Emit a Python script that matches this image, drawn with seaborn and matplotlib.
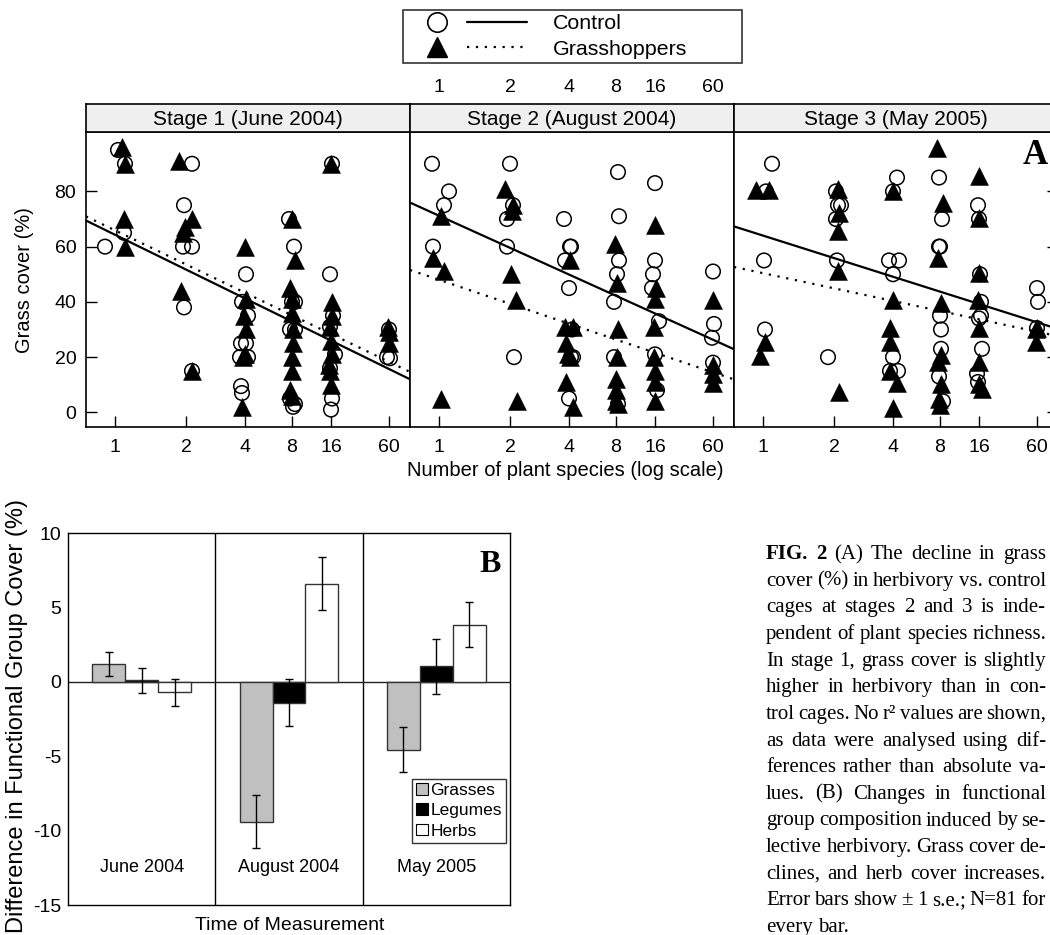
import numpy as np
import pandas as pd
import matplotlib.pyplot as plt
import seaborn as sns
from matplotlib.lines import Line2D
from matplotlib.patches import Patch
from matplotlib.legend_handler import HandlerTuple

# ===============================
# Panel A data: (species, jitter, cover)
# ===============================
stage_titles = ["Stage 1 (June 2004)", "Stage 2 (August 2004)", "Stage 3 (May 2005)"]
species_ticks = [1, 2, 4, 8, 16, 60]

s1_control = [(1, -10, 60), (1, 3, 95), (1, 10, 90), (1, 9, 65),
              (2, 6, 90), (2, -2, 75), (2, -3, 60), (2, 6, 60), (2, -2, 38), (2, 6, 15),
              (4, 1, 50), (4, -3, 40), (4, 3, 35), (4, -4, 25), (4, 1, 25), (4, -5, 20), (4, 3, 20),
              (4, -4, 9.5), (4, -3, 7),
              (8, -3, 70), (8, 2, 60), (8, 0, 40), (8, 3, 40), (8, -2, 30), (8, 3, 30), (8, -2, 5),
              (8, 3, 3), (8, 1, 2),
              (16, 1, 90), (16, -1, 50), (16, 2, 35), (16, -1, 31), (16, 4, 21), (16, -1, 16),
              (16, 1, 5), (16, 0, 1),
              (60, -2, 20), (60, 1, 19.6), (60, 0, 30)]
s1_grasshoppers = [(1, 7, 96), (1, 10, 90), (1, 9, 70), (1, 10, 60),
                   (2, -7, 91), (2, 6, 70), (2, -1, 67), (2, -3, 65), (2, -5, 44), (2, 6, 15),
                   (4, 0, 60), (4, 1, 41), (4, -1, 35), (4, 1, 30), (4, 0, 21), (4, -2, 20), (4, -3, 2),
                   (8, 0, 70), (8, 3, 55), (8, -2, 45), (8, 0, 41), (8, 0, 36), (8, 1, 30), (8, 1, 25),
                   (8, 0, 20), (8, 0, 15), (8, -2, 8), (8, 0, 6),
                   (16, 0, 90), (16, 1, 40), (16, 1, 35), (16, -1, 31), (16, 0, 26), (16, 1, 21),
                   (16, -2, 17), (16, -1, 15), (16, 0, 10),
                   (60, -1, 31), (60, 0, 29), (60, 0, 25)]

s2_control = [(1, -7, 90), (1, 10, 80), (1, 5, 75), (1, -6, 60),
              (2, 0, 90), (2, 3, 75), (2, -3, 70), (2, -3, 60), (2, 4, 20),
              (4, -5, 70), (4, 1, 60), (4, 2, 60), (4, -4, 55), (4, 0, 45), (4, 3, 30), (4, 2, 20),
              (4, 4, 20), (4, 0, 5),
              (8, 2, 87), (8, 3, 71), (8, 3, 55), (8, 1, 50), (8, -2, 40), (8, -2, 20), (8, 2, 3),
              (16, 0, 83), (16, 0, 55), (16, -2, 50), (16, -3, 45), (16, 4, 33), (16, 0, 21), (16, 2, 8),
              (60, 0, 51), (60, 1, 32), (60, -1, 27), (60, 0, 18)]
s2_grasshoppers = [(1, 2, 71), (1, -6, 56), (1, 5, 51), (1, 2, 5),
                   (2, -5, 81), (2, 3, 75), (2, 2, 73), (2, 1, 50), (2, 6, 40.5), (2, 7, 4),
                   (4, 1, 55), (4, -4, 31), (4, 4, 31), (4, -3, 25), (4, -1, 21), (4, 1, 20), (4, -3, 11),
                   (4, 4, 2),
                   (8, -1, 61), (8, 1, 47), (8, 2, 30), (8, 1, 20), (8, 0, 12), (8, 0, 8), (8, 0, 4), (8, 2, 3),
                   (16, 0, 68), (16, 1, 45), (16, 0, 41), (16, -1, 31), (16, -1, 20), (16, 0, 15),
                   (16, 0, 11), (16, 0, 4),
                   (60, 0, 40.5), (60, 0, 17), (60, 0, 14), (60, 0, 10.5)]

s3_control = [(1, 9, 90), (1, 3, 80), (1, 1, 55), (1, 2, 30),
              (2, 2, 80), (2, 4, 75), (2, 7, 75), (2, 2, 70), (2, 3, 55), (2, -6, 20),
              (4, 4, 85), (4, 0, 80), (4, -4, 55), (4, 6, 55), (4, 0, 50), (4, 0, 20), (4, -3, 15),
              (4, 5, 15),
              (8, -1, 85), (8, 2, 70), (8, -1, 60), (8, 0, 60), (8, 0, 35), (8, 1, 30), (8, 1, 23),
              (8, -1, 13), (8, 3, 4),
              (16, -1, 75), (16, 0, 70), (16, 1, 50), (16, 2, 40), (16, 2, 35), (16, 0, 34), (16, 3, 23),
              (16, -2, 14), (16, -1, 11),
              (60, 0, 45), (60, 1, 40), (60, 0, 30.5)]
s3_grasshoppers = [(1, -7, 80.5), (1, 6, 80.5), (1, 2, 25.5), (1, -3, 20.5),
                   (2, 4, 81), (2, 5, 72), (2, 4, 65.5), (2, 4, 51), (2, 5, 7.5),
                   (4, 0, 80), (4, 0, 40.5), (4, -3, 30.5), (4, -3, 25.5), (4, -3, 15), (4, 4, 10.5),
                   (4, 0, 1.5),
                   (8, -3, 95.7), (8, 3, 75.8), (8, -2, 55.8), (8, 1, 39.5), (8, 1, 20.7), (8, -2, 18.3),
                   (8, 1, 10.4), (8, -1, 5), (8, 0, 2.5),
                   (16, 0, 85.5), (16, 0, 70.3), (16, 0, 50.3), (16, -1, 40.7), (16, 0, 30.4),
                   (16, 0, 18.3), (16, 0, 10.4), (16, 3, 8.6),
                   (60, 0, 30.5), (60, -1, 30), (60, -1, 25.5)]

# fitted lines: cover at 1 and at 60 species
control_fit = [(64.3, 15.7), (71.2, 26.3), (64.0, 32.6)]
grasshopper_fit = [(65.9, 18.3), (48.0, 14.5), (50.4, 29.2)]

# ===============================
# Panel B data
# ===============================
times = ["June 2004", "August 2004", "May 2005"]
groups = ["Grasses", "Legumes", "Herbs"]
grasses_diff = [1.2, -9.4, -4.55]
legumes_diff = [0.1, -1.4, 1.05]
herbs_diff = [-0.7, 6.6, 3.85]
grasses_se = [0.8, 1.8, 1.5]
legumes_se = [0.85, 1.6, 1.85]
herbs_se = [0.9, 1.8, 1.5]

caption_lines = [
    "FIG. 2 (A) The decline in grass",
    "cover (%) in herbivory vs. control",
    "cages at stages 2 and 3 is inde-",
    "pendent of plant species richness.",
    "In stage 1, grass cover is slightly",
    "higher in herbivory than in con-",
    "trol cages. No r\u00b2 values are shown,",
    "as data were analysed using dif-",
    "ferences rather than absolute va-",
    "lues. (B) Changes in functional",
    "group composition induced by se-",
    "lective herbivory. Grass cover de-",
    "clines, and herb cover increases.",
    "Error bars show \u00b1 1 s.e.; N=81 for",
    "every bar.",
]

# ===============================
# style
# ===============================
sns.set_style("ticks")
plt.rcParams['font.family'] = ['Liberation Sans', 'DejaVu Sans']
plt.rcParams['text.color'] = 'black'
plt.rcParams['xtick.color'] = 'black'
plt.rcParams['ytick.color'] = 'black'
plt.rcParams['axes.edgecolor'] = 'black'
plt.rcParams['axes.unicode_minus'] = False
SERIF = ['Liberation Serif', 'DejaVu Serif']

W, H = 1050, 935
fig = plt.figure(figsize=(W / 100, H / 100), dpi=100)


def px_box(x0, y0, x1, y1):
    return [x0 / W, 1 - y1 / H, (x1 - x0) / W, (y1 - y0) / H]


# species axis: log-like spacing of the original lattice plot
tick_spacing = [0, 71, 130, 177, 216, 274]
L = np.log2(species_ticks)
end_slope = (tick_spacing[-1] - tick_spacing[-2]) / (L[-1] - L[-2])
L_ext = np.r_[L[0] - 3, L, L[-1] + 3]
P_ext = np.r_[-3 * tick_spacing[1], tick_spacing, tick_spacing[-1] + 3 * end_slope]


def fwd(n):
    n = np.clip(np.asarray(n, dtype=float), 1e-6, None)
    return np.interp(np.log2(n), L_ext, P_ext)


def inv(p):
    return 2.0 ** np.interp(np.asarray(p, dtype=float), P_ext, L_ext)


frames = []
for i, (pc, pg) in enumerate([(s1_control, s1_grasshoppers), (s2_control, s2_grasshoppers),
                              (s3_control, s3_grasshoppers)]):
    for treat, pts in [("Control", pc), ("Grasshoppers", pg)]:
        d = pd.DataFrame(pts, columns=["species", "jitter", "cover"])
        d["stage"] = i
        d["treatment"] = treat
        frames.append(d)
df = pd.concat(frames, ignore_index=True)
df["x"] = inv(fwd(df["species"]) + df["jitter"])

# ===============================
# Panel A
# ===============================
edges = [86, 410, 734, 1058]
p_left, p_right = -29, 295
for i in range(3):
    ax = fig.add_axes(px_box(edges[i], 132, edges[i + 1], 427))
    ax.set_xscale("function", functions=(fwd, inv))
    ax.set_xlim(inv(p_left), inv(p_right))
    ax.set_ylim(-5.3, 101.5)
    sub = df[df.stage == i]
    sns.scatterplot(data=sub[sub.treatment == "Control"], x="x", y="cover", marker="o", s=110,
                    facecolor="none", edgecolor="black", linewidth=1.1, ax=ax, legend=False, zorder=3)
    sns.scatterplot(data=sub[sub.treatment == "Grasshoppers"], x="x", y="cover", marker="^", s=165,
                    color="black", edgecolor="black", linewidth=0.4, ax=ax, legend=False, zorder=3)
    for fit, ls in [(control_fit[i], "-"), (grasshopper_fit[i], (0, (1, 3)))]:
        slope = (fit[1] - fit[0]) / (tick_spacing[-1] - tick_spacing[0])
        yy = [fit[0] + slope * p_left, fit[0] + slope * p_right]
        ax.plot(inv([p_left, p_right]), yy, color="black", lw=1.6, ls=ls, zorder=2)
    ax.set_xticks(species_ticks)
    ax.set_xticklabels([str(t) for t in species_ticks])
    ax.minorticks_off()
    ax.set_xlabel("")
    ax.set_ylabel("")
    ax.tick_params(axis="x", direction="in", length=8, width=1, labelsize=14, pad=9)
    ax.set_yticks([0, 20, 40, 60, 80])
    if i == 0:
        ax.tick_params(axis="y", direction="in", left=True, right=False, labelleft=True,
                       length=8, width=1, labelsize=14, pad=7)
    elif i == 2:
        ax.tick_params(axis="y", direction="in", left=False, right=True, labelleft=False,
                       length=8, width=1)
    else:
        ax.tick_params(axis="y", left=False, labelleft=False)
    for sp in ax.spines.values():
        sp.set_linewidth(1.2)
        sp.set_color("black")

    strip = fig.add_axes(px_box(edges[i], 104, edges[i + 1], 132), sharex=ax)
    strip.set_facecolor("#efefef")
    strip.set_yticks([])
    strip.tick_params(axis="x", bottom=False, labelbottom=False, top=False,
                      labeltop=(i == 1), labelsize=14, pad=2)
    for sp in strip.spines.values():
        sp.set_linewidth(1.2)
        sp.set_color("black")
    strip.text(0.5, 0.45, stage_titles[i], ha="center", va="center", fontsize=15,
               transform=strip.transAxes)

fig.text(1035 / W, 1 - 156 / H, "A", family=SERIF, weight="bold", fontsize=25,
         ha="center", va="center")
fig.text(565 / W, 1 - 470 / H, "Number of plant species (log scale)", fontsize=14.5,
         ha="center", va="center")
fig.text(25 / W, 1 - 280 / H, "Grass cover (%)", fontsize=14.5, rotation=90,
         ha="center", va="center")

circ = Line2D([], [], marker="o", ls="none", mfc="none", mec="black", mew=1.2, ms=14)
tri = Line2D([], [], marker="^", ls="none", color="black", ms=15)
solid = Line2D([], [], color="black", lw=1.6)
dotted = Line2D([], [], color="black", lw=1.6, ls=(0, (1, 3)))
leg = fig.legend(handles=[(circ, solid), (tri, dotted)], labels=["Control", "Grasshoppers"],
                 handler_map={tuple: HandlerTuple(ndivide=None, pad=0)},
                 loc="upper left", bbox_to_anchor=(403 / W, 1 - 61 / H, 339 / W, 51 / H),
                 mode="expand", frameon=True, fancybox=False, fontsize=15.4,
                 handlelength=5.6, handletextpad=1.2, borderpad=0.2, labelspacing=0.3,
                 borderaxespad=0)
leg.get_frame().set_edgecolor("black")
leg.get_frame().set_linewidth(1.2)

# ===============================
# Panel B
# ===============================
bar_df = pd.DataFrame({
    "time": times * 3,
    "group": [g for g in groups for _ in times],
    "diff": grasses_diff + legumes_diff + herbs_diff,
    "se": grasses_se + legumes_se + herbs_se,
})
bar_colors = {"Grasses": "#c0c0c0", "Legumes": "black", "Herbs": "white"}

axb = fig.add_axes(px_box(68, 533, 510, 905))
sns.barplot(data=bar_df, x="time", y="diff", hue="group", order=times, hue_order=groups,
            palette=bar_colors, edgecolor="#333333", linewidth=1, width=0.67,
            errorbar=None, ax=axb, legend=False, zorder=2)
for cont, g in zip(axb.containers, groups):
    sub = bar_df[bar_df.group == g].set_index("time").loc[times]
    xs = [b.get_x() + b.get_width() / 2 for b in cont]
    axb.errorbar(xs, sub["diff"], yerr=sub["se"], fmt="none", ecolor="black",
                 elinewidth=1, capsize=3, capthick=1, zorder=3)

axb.set_xlim(-0.5, 2.5)
axb.set_ylim(-15, 10)
axb.axvline(0.5, color="black", lw=1, zorder=1)
axb.axvline(1.5, color="black", lw=1, zorder=1)
axb.axhline(0, color="#222222", lw=1, zorder=1)
axb.set_xticks([])
axb.set_yticks([-15, -10, -5, 0, 5, 10])
axb.tick_params(axis="y", length=0, labelsize=14, pad=5)
axb.set_xlabel("")
axb.set_ylabel("")
for sp in axb.spines.values():
    sp.set_linewidth(1)
    sp.set_color("black")
for i, t in enumerate(times):
    axb.text(i, -12.5, t, ha="center", va="center", fontsize=13)
axb.text(0.955, 0.915, "B", transform=axb.transAxes, family=SERIF, weight="bold",
         fontsize=23, ha="center", va="center")

leg_b = axb.legend(handles=[Patch(facecolor=bar_colors[g], edgecolor="black", lw=0.8) for g in groups],
                   labels=groups, loc="lower right", bbox_to_anchor=(0.991, 0.167),
                   frameon=True, fancybox=False, fontsize=12.5, handlelength=0.65,
                   handleheight=0.65, handletextpad=0.15, labelspacing=0.3, borderpad=0.25,
                   borderaxespad=0)
leg_b.get_frame().set_edgecolor("black")
leg_b.get_frame().set_linewidth(1)

fig.text(290 / W, 1 - 925 / H, "Time of Measurement", fontsize=14, ha="center", va="center")
fig.text(17 / W, 1 - 716 / H, "Difference in Functional Group Cover (%)", fontsize=17,
         rotation=90, ha="center", va="center")

# ===============================
# Caption (justified)
# ===============================
fig.canvas.draw()
renderer = fig.canvas.get_renderer()
cap_left, cap_right = 766, 1046
for k, line in enumerate(caption_lines):
    y = 1 - (559 + k * 26.65) / H
    words = line.split(" ")
    texts = []
    for j, w in enumerate(words):
        bold = (k == 0 and j < 2)
        texts.append(fig.text(0, y, w, fontsize=15, family=SERIF,
                              weight="bold" if bold else "normal", ha="left", va="baseline"))
    widths = [t.get_window_extent(renderer).width for t in texts]
    if k == len(caption_lines) - 1 or len(words) == 1:
        gap = 5.2
    else:
        gap = (cap_right - cap_left - sum(widths)) / (len(words) - 1)
    x = cap_left
    for t, w in zip(texts, widths):
        t.set_x(x / W)
        x += w + gap

fig.savefig("out.png", dpi=100)
